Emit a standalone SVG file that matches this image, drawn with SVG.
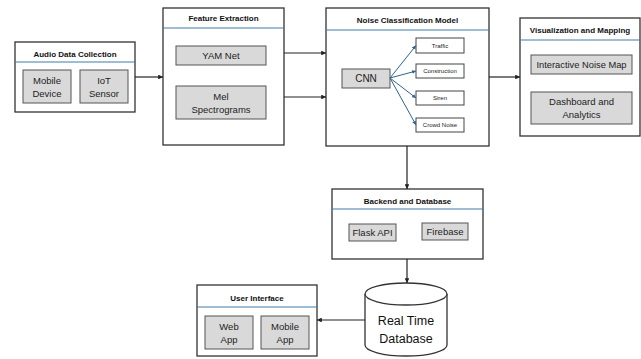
<svg xmlns="http://www.w3.org/2000/svg" width="641" height="359" viewBox="0 0 641 359">
  <defs>
    <marker id="arrow" viewBox="0 0 6 6" refX="6" refY="3" markerWidth="4" markerHeight="4" orient="auto">
      <path d="M0,0 L6,3 L0,6 Z" fill="#222"/>
    </marker>
    <marker id="arrow-blue" viewBox="0 0 6 6" refX="6" refY="3" markerWidth="4" markerHeight="4" orient="auto">
      <path d="M0,0 L6,3 L0,6 Z" fill="#2f6390"/>
    </marker>
  </defs>
  <style>
    .panel { fill: #ffffff; stroke: #333333; stroke-width: 1.3; }
    .rule { stroke: #3f7aa6; stroke-width: 1; }
    .item { fill: #d9d9d9; stroke: #555555; stroke-width: 1; }
    .cls { fill: #ffffff; stroke: #444444; stroke-width: 1; }
    .title { font-family: "Liberation Sans", Arial, sans-serif; font-weight: bold; font-size: 8px; fill: #111; text-anchor: middle; }
    .label { font-family: "Liberation Sans", Arial, sans-serif; font-size: 9.5px; fill: #222; text-anchor: middle; }
    .small { font-family: "Liberation Sans", Arial, sans-serif; font-size: 6px; fill: #222; text-anchor: middle; }
    .big { font-family: "Liberation Sans", Arial, sans-serif; font-size: 12.5px; fill: #111; text-anchor: middle; }
    .link { stroke: #222; stroke-width: 1.2; fill: none; marker-end: url(#arrow); }
    .link-blue { stroke: #2f6390; stroke-width: 1; fill: none; marker-end: url(#arrow-blue); }
  </style>

  <!-- Audio Data Collection -->
  <g id="audio-data-collection">
    <rect class="panel" x="15" y="42" width="120" height="70"/>
    <line class="rule" x1="15" y1="62" x2="135" y2="62"/>
    <text class="title" x="75" y="57">Audio Data Collection</text>
    <rect class="item" x="23" y="70" width="48" height="33"/>
    <text class="label" x="47" y="84">Mobile</text>
    <text class="label" x="47" y="97">Device</text>
    <rect class="item" x="80" y="70" width="48" height="33"/>
    <text class="label" x="104" y="84">IoT</text>
    <text class="label" x="104" y="97">Sensor</text>
  </g>

  <!-- Feature Extraction -->
  <g id="feature-extraction">
    <rect class="panel" x="163" y="8" width="121" height="137"/>
    <line class="rule" x1="163" y1="28" x2="284" y2="28"/>
    <text class="title" x="223.5" y="21">Feature Extraction</text>
    <rect class="item" x="176" y="46" width="90" height="19"/>
    <text class="label" x="221" y="59">YAM Net</text>
    <rect class="item" x="176" y="86" width="90" height="33"/>
    <text class="label" x="221" y="100">Mel</text>
    <text class="label" x="221" y="113">Spectrograms</text>
  </g>

  <!-- Noise Classification Model -->
  <g id="noise-classification-model">
    <rect class="panel" x="326" y="8" width="163" height="138"/>
    <line class="rule" x1="326" y1="30" x2="489" y2="30"/>
    <text class="title" x="407.5" y="23">Noise Classification Model</text>
    <rect class="item" x="342" y="69" width="48" height="19"/>
    <text class="label" x="366" y="82" style="font-size:10px">CNN</text>
    <rect class="cls" x="416" y="38" width="48" height="15"/>
    <text class="small" x="440" y="47.5">Traffic</text>
    <rect class="cls" x="416" y="64" width="48" height="14"/>
    <text class="small" x="440" y="73">Construction</text>
    <rect class="cls" x="416" y="91" width="48" height="14"/>
    <text class="small" x="440" y="100">Siren</text>
    <rect class="cls" x="416" y="118" width="48" height="14"/>
    <text class="small" x="440" y="127">Crowd Noise</text>
  </g>

  <!-- Visualization and Mapping -->
  <g id="visualization-and-mapping">
    <rect class="panel" x="520" y="18" width="120" height="118"/>
    <line class="rule" x1="520" y1="40" x2="640" y2="40"/>
    <text class="title" x="580" y="33">Visualization and Mapping</text>
    <rect class="item" x="531" y="55" width="101" height="19"/>
    <text class="label" x="581.5" y="68" textLength="90" lengthAdjust="spacingAndGlyphs">Interactive Noise Map</text>
    <rect class="item" x="531" y="92" width="101" height="32"/>
    <text class="label" x="581.5" y="105">Dashboard and</text>
    <text class="label" x="581.5" y="118">Analytics</text>
  </g>

  <!-- Backend and Database -->
  <g id="backend-and-database">
    <rect class="panel" x="332" y="189" width="151" height="70"/>
    <line class="rule" x1="332" y1="209" x2="483" y2="209"/>
    <text class="title" x="407.5" y="204">Backend and Database</text>
    <rect class="item" x="349" y="224" width="47" height="17"/>
    <text class="label" x="372.5" y="236">Flask API</text>
    <rect class="item" x="422" y="223" width="46" height="17"/>
    <text class="label" x="445" y="235">Firebase</text>
  </g>

  <!-- Real Time Database -->
  <g id="real-time-database">
    <path class="panel" d="M365,294 L365,345 A41,11 0 0 0 447,345 L447,294 A41,11 0 0 0 365,294 Z"/>
    <path class="panel" d="M365,294 A41,11 0 0 0 447,294" fill="none"/>
    <text class="big" x="406" y="325">Real Time</text>
    <text class="big" x="406" y="343">Database</text>
  </g>

  <!-- User Interface -->
  <g id="user-interface">
    <rect class="panel" x="197" y="285" width="120" height="71"/>
    <line class="rule" x1="197" y1="307" x2="317" y2="307"/>
    <text class="title" x="257" y="301">User Interface</text>
    <rect class="item" x="205" y="316" width="48" height="33"/>
    <text class="label" x="229" y="330">Web</text>
    <text class="label" x="229" y="343">App</text>
    <rect class="item" x="261" y="316" width="48" height="33"/>
    <text class="label" x="285" y="330">Mobile</text>
    <text class="label" x="285" y="343">App</text>
  </g>

  <!-- Connectors -->
  <g id="connectors">
    <line class="link" x1="135" y1="77" x2="163" y2="77"/>
    <line class="link" x1="284" y1="53" x2="326" y2="53"/>
    <line class="link" x1="284" y1="97" x2="326" y2="97"/>
    <line class="link" x1="489" y1="77" x2="520" y2="77"/>
    <line class="link" x1="407" y1="146" x2="407" y2="189"/>
    <line class="link" x1="407" y1="259" x2="407" y2="283"/>
    <line class="link" x1="365" y1="320" x2="317" y2="320"/>
    <line class="link-blue" x1="390" y1="78" x2="416" y2="45.5"/>
    <line class="link-blue" x1="390" y1="78" x2="416" y2="71"/>
    <line class="link-blue" x1="390" y1="78" x2="416" y2="98"/>
    <line class="link-blue" x1="390" y1="78" x2="416" y2="125"/>
  </g>
</svg>
